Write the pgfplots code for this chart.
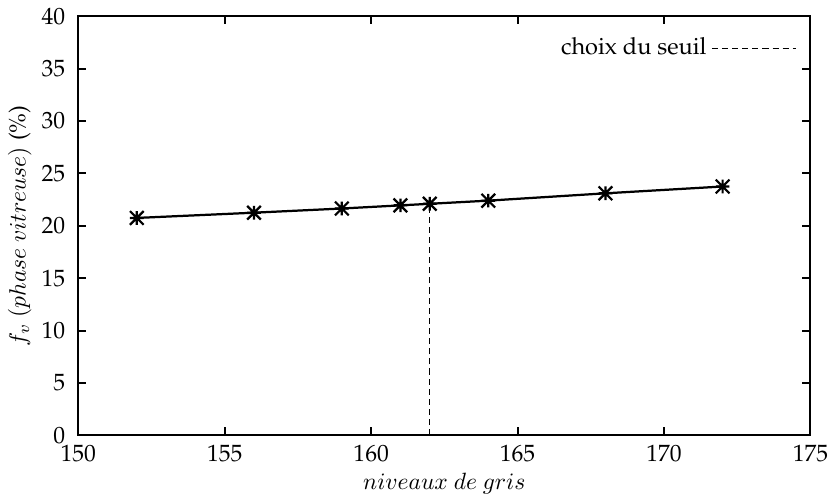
\documentclass[border=0pt]{standalone}
\usepackage[T1]{fontenc}
\usepackage{palatino}
\usepackage{pgfplots}
\pgfplotsset{compat=1.18}
\pgfdeclareplotmark{gpstar}{%
  \pgfpathmoveto{\pgfqpoint{-\pgfplotmarksize}{0pt}}\pgfpathlineto{\pgfqpoint{\pgfplotmarksize}{0pt}}%
  \pgfpathmoveto{\pgfqpoint{0pt}{-\pgfplotmarksize}}\pgfpathlineto{\pgfqpoint{0pt}{\pgfplotmarksize}}%
  \pgfpathmoveto{\pgfqpoint{-\pgfplotmarksize}{-\pgfplotmarksize}}\pgfpathlineto{\pgfqpoint{\pgfplotmarksize}{\pgfplotmarksize}}%
  \pgfpathmoveto{\pgfqpoint{-\pgfplotmarksize}{\pgfplotmarksize}}\pgfpathlineto{\pgfqpoint{\pgfplotmarksize}{-\pgfplotmarksize}}%
  \pgfusepathqstroke}
\begin{document}
\begin{tikzpicture}
\begin{axis}[
  scale only axis,
  width=311pt, height=178pt,
  xmin=150, xmax=175, ymin=0, ymax=40,
  xtick={150,155,...,175}, ytick={0,5,...,40},
  tick align=inside,
  major tick length=3.4pt,
  axis line style={line width=0.85pt},
  every tick/.style={line width=0.85pt, black},
  /pgf/number format/assume math mode=true,
  yticklabel style={xshift=-2pt},
  xticklabel style={yshift=-0.5pt},
  xlabel={$niveaux\ de\ gris$},
  ylabel={$f_v\ (phase\ vitreuse)$ (\%)},
  xlabel style={yshift=2pt},
  ylabel style={yshift=-2.5pt},
  legend style={draw=none, fill=none, at={(axis description cs:0.981,0.924)}, anchor=east, legend cell align=right, font=\normalsize, inner sep=0pt},
  legend plot pos=right,
  legend image code/.code={\draw[#1] (0.05cm,0cm) -- (1.3cm,0cm);},
]
\addplot[black, line width=0.95pt, mark=gpstar, mark size=2.9pt, mark options={line width=0.95pt}, forget plot]
  coordinates {(152,20.75) (156,21.25) (159,21.65) (161,21.95) (162,22.1) (164,22.4) (168,23.1) (172,23.75)};
\addplot[black, line width=0.45pt, dash pattern=on 2.6pt off 1.7pt] coordinates {(162,0) (162,22.1)};
\addlegendentry{choix du seuil}
\end{axis}
\end{tikzpicture}
\end{document}
